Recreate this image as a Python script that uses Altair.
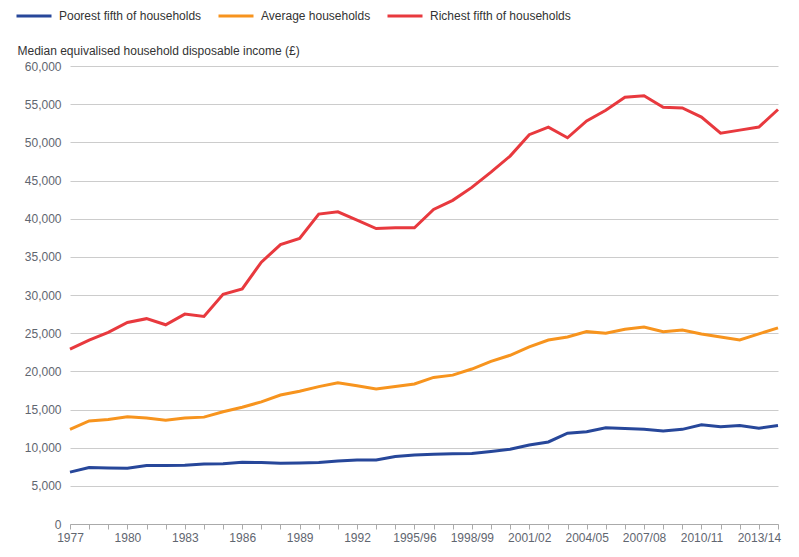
import json
import altair as alt
import pandas as pd

periods = [str(y) for y in range(1977, 1994)] + [f"{y}/{str(y + 1)[-2:]}" for y in range(1994, 2015)]

poorest = [6.8, 7.4, 7.35, 7.3, 7.65, 7.65, 7.7, 7.86, 7.9, 8.1, 8.05, 7.95, 8.0, 8.05, 8.25, 8.4, 8.4, 8.85, 9.05,
           9.13, 9.2, 9.25, 9.5, 9.8, 10.35, 10.75, 11.9, 12.1, 12.6, 12.5, 12.4, 12.2, 12.4, 13.0, 12.75, 12.9, 12.55, 12.9]
average = [12.4, 13.5, 13.7, 14.06, 13.9, 13.6, 13.9, 14.0, 14.7, 15.3, 16.0, 16.9, 17.4, 18.0, 18.5, 18.1, 17.7, 18.0, 18.35,
           19.2, 19.5, 20.3, 21.3, 22.1, 23.2, 24.1, 24.5, 25.2, 25.0, 25.5, 25.8, 25.2, 25.4, 24.9, 24.5, 24.1, 24.9, 25.7]
richest = [22.9, 24.1, 25.1, 26.4, 26.9, 26.1, 27.5, 27.2, 30.1, 30.8, 34.3, 36.6, 37.4, 40.6, 40.9, 39.8, 38.7, 38.8, 38.8,
           41.2, 42.4, 44.1, 46.1, 48.2, 51.0, 52.0, 50.6, 52.8, 54.2, 55.9, 56.1, 54.6, 54.5, 53.3, 51.2, 51.6, 52.0, 54.3]

series_names = ["Poorest fifth of households", "Average households", "Richest fifth of households"]
series_values = [poorest, average, richest]
colors = ["#27479a", "#f7941e", "#e8393e"]

rows = []
for name, vals in zip(series_names, series_values):
    for i, v in enumerate(vals):
        rows.append({"idx": i, "period": periods[i], "series": name, "income": v * 1000})
df = pd.DataFrame(rows)

label_expr = "datum.value % 3 == 0 ? " + json.dumps(periods) + "[datum.value] : ''"

chart = alt.Chart(df).mark_line(strokeWidth=3).encode(
    x=alt.X("idx:Q",
            scale=alt.Scale(domain=[0, len(periods) - 1], nice=False, zero=False),
            axis=alt.Axis(values=list(range(len(periods))), labelExpr=label_expr, title=None,
                          grid=False, tickSize=5, tickColor="#aaaaaa", domainColor="#aaaaaa",
                          labelPadding=3, labelOverlap=False, labelFlush=False,
                          labelFont="Liberation Sans", labelFontSize=12, labelColor="#5f6670")),
    y=alt.Y("income:Q",
            scale=alt.Scale(domain=[0, 60000], nice=False),
            axis=alt.Axis(values=list(range(0, 60001, 5000)), format=",d",
                          title="Median equivalised household disposable income (£)",
                          titleAngle=0, titleAlign="left", titleBaseline="middle",
                          titleX=-53, titleY=-16, titleFont="Liberation Sans", titleFontSize=12,
                          titleFontWeight="normal", titleColor="#333333",
                          grid=True, gridColor="#cccccc", domain=False, ticks=False, tickSize=0,
                          labelPadding=9, labelFont="Liberation Sans", labelFontSize=12,
                          labelColor="#5f6670")),
    color=alt.Color("series:N",
                    scale=alt.Scale(domain=series_names, range=colors),
                    legend=alt.Legend(orient="none", legendX=-55, legendY=-69, direction="horizontal",
                                      title=None, symbolType="stroke", symbolSize=1225,
                                      symbolStrokeWidth=3, labelOffset=6, columnPadding=10,
                                      padding=0, labelFont="Liberation Sans", labelFontSize=12,
                                      labelColor="#333333")),
    order="idx:Q",
).properties(
    width=708,
    height=458,
    autosize=alt.AutoSizeParams(type="none"),
    padding={"left": 62, "top": 58, "right": 13, "bottom": 25},
).configure_view(stroke=None)

chart.save("out.html", embed_options={"renderer": "svg", "actions": False})
